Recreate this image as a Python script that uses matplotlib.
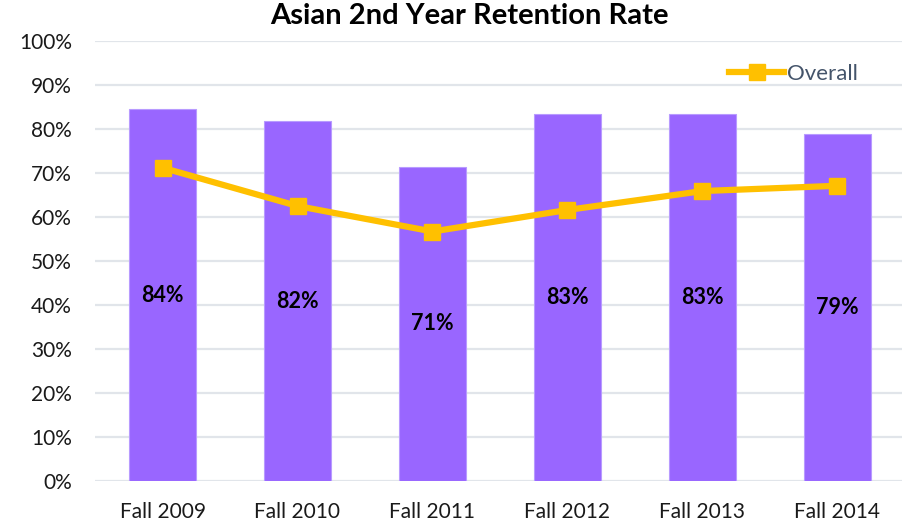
import numpy as np
import matplotlib
matplotlib.use("Agg")
import matplotlib.pyplot as plt
from matplotlib.ticker import PercentFormatter

plt.rcParams['font.family'] = ['Lato', 'DejaVu Sans']

# data
terms = ['Fall 2009', 'Fall 2010', 'Fall 2011', 'Fall 2012', 'Fall 2013', 'Fall 2014']
asian = [84.5, 81.8, 71.4, 83.3, 83.3, 78.8]
asian_labels = ['84%', '82%', '71%', '83%', '83%', '79%']
overall = [71.2, 62.5, 56.7, 61.6, 65.9, 67.1]

bar_color = '#9966FF'
line_color = '#FFC000'
grid_color = '#E1E5EA'

fig = plt.figure(figsize=(9.02, 5.26), dpi=100)
ax = fig.add_axes([95 / 902, (526 - 481) / 526, 810 / 902, 440 / 526])

x = np.arange(len(terms))
bars = ax.bar(x, asian, width=0.5, color=bar_color, edgecolor='#B89BFF',
              linewidth=0.8, zorder=2)
ax.plot(x, overall, color=line_color, lw=4.5, marker='s', ms=11.5,
        label='Overall', zorder=3)

# value labels sit in the middle of each bar
for xi, v, lab in zip(x, asian, asian_labels):
    ax.text(xi, v / 2, lab, ha='center', va='center', fontsize=15.5,
            fontweight='bold', color='black', zorder=4)

ax.set_xlim(-0.5, len(terms) - 0.5)
ax.set_ylim(0, 100)
ax.set_yticks(np.arange(0, 101, 10))
ax.yaxis.set_major_formatter(PercentFormatter(decimals=0))
ax.set_xticks(x)
ax.set_xticklabels(terms)
ax.tick_params(axis='both', length=0, labelsize=15, colors='#1a1a1a')
ax.tick_params(axis='x', pad=15)
ax.tick_params(axis='y', pad=16.5)
ax.grid(axis='y', color=grid_color, lw=1.6, zorder=0)
ax.set_axisbelow(True)
for s in ax.spines.values():
    s.set_visible(False)

leg = ax.legend(loc='upper right', bbox_to_anchor=(0.966, 0.994), frameon=False,
                fontsize=16, handlelength=2.5, handletextpad=0.1,
                labelcolor='#44546A')

fig.text(469 / 902, 1 - 16 / 526, 'Asian 2nd Year Retention Rate',
         ha='center', va='center', fontsize=21, fontweight='bold')

fig.savefig('out.png', dpi=100)
